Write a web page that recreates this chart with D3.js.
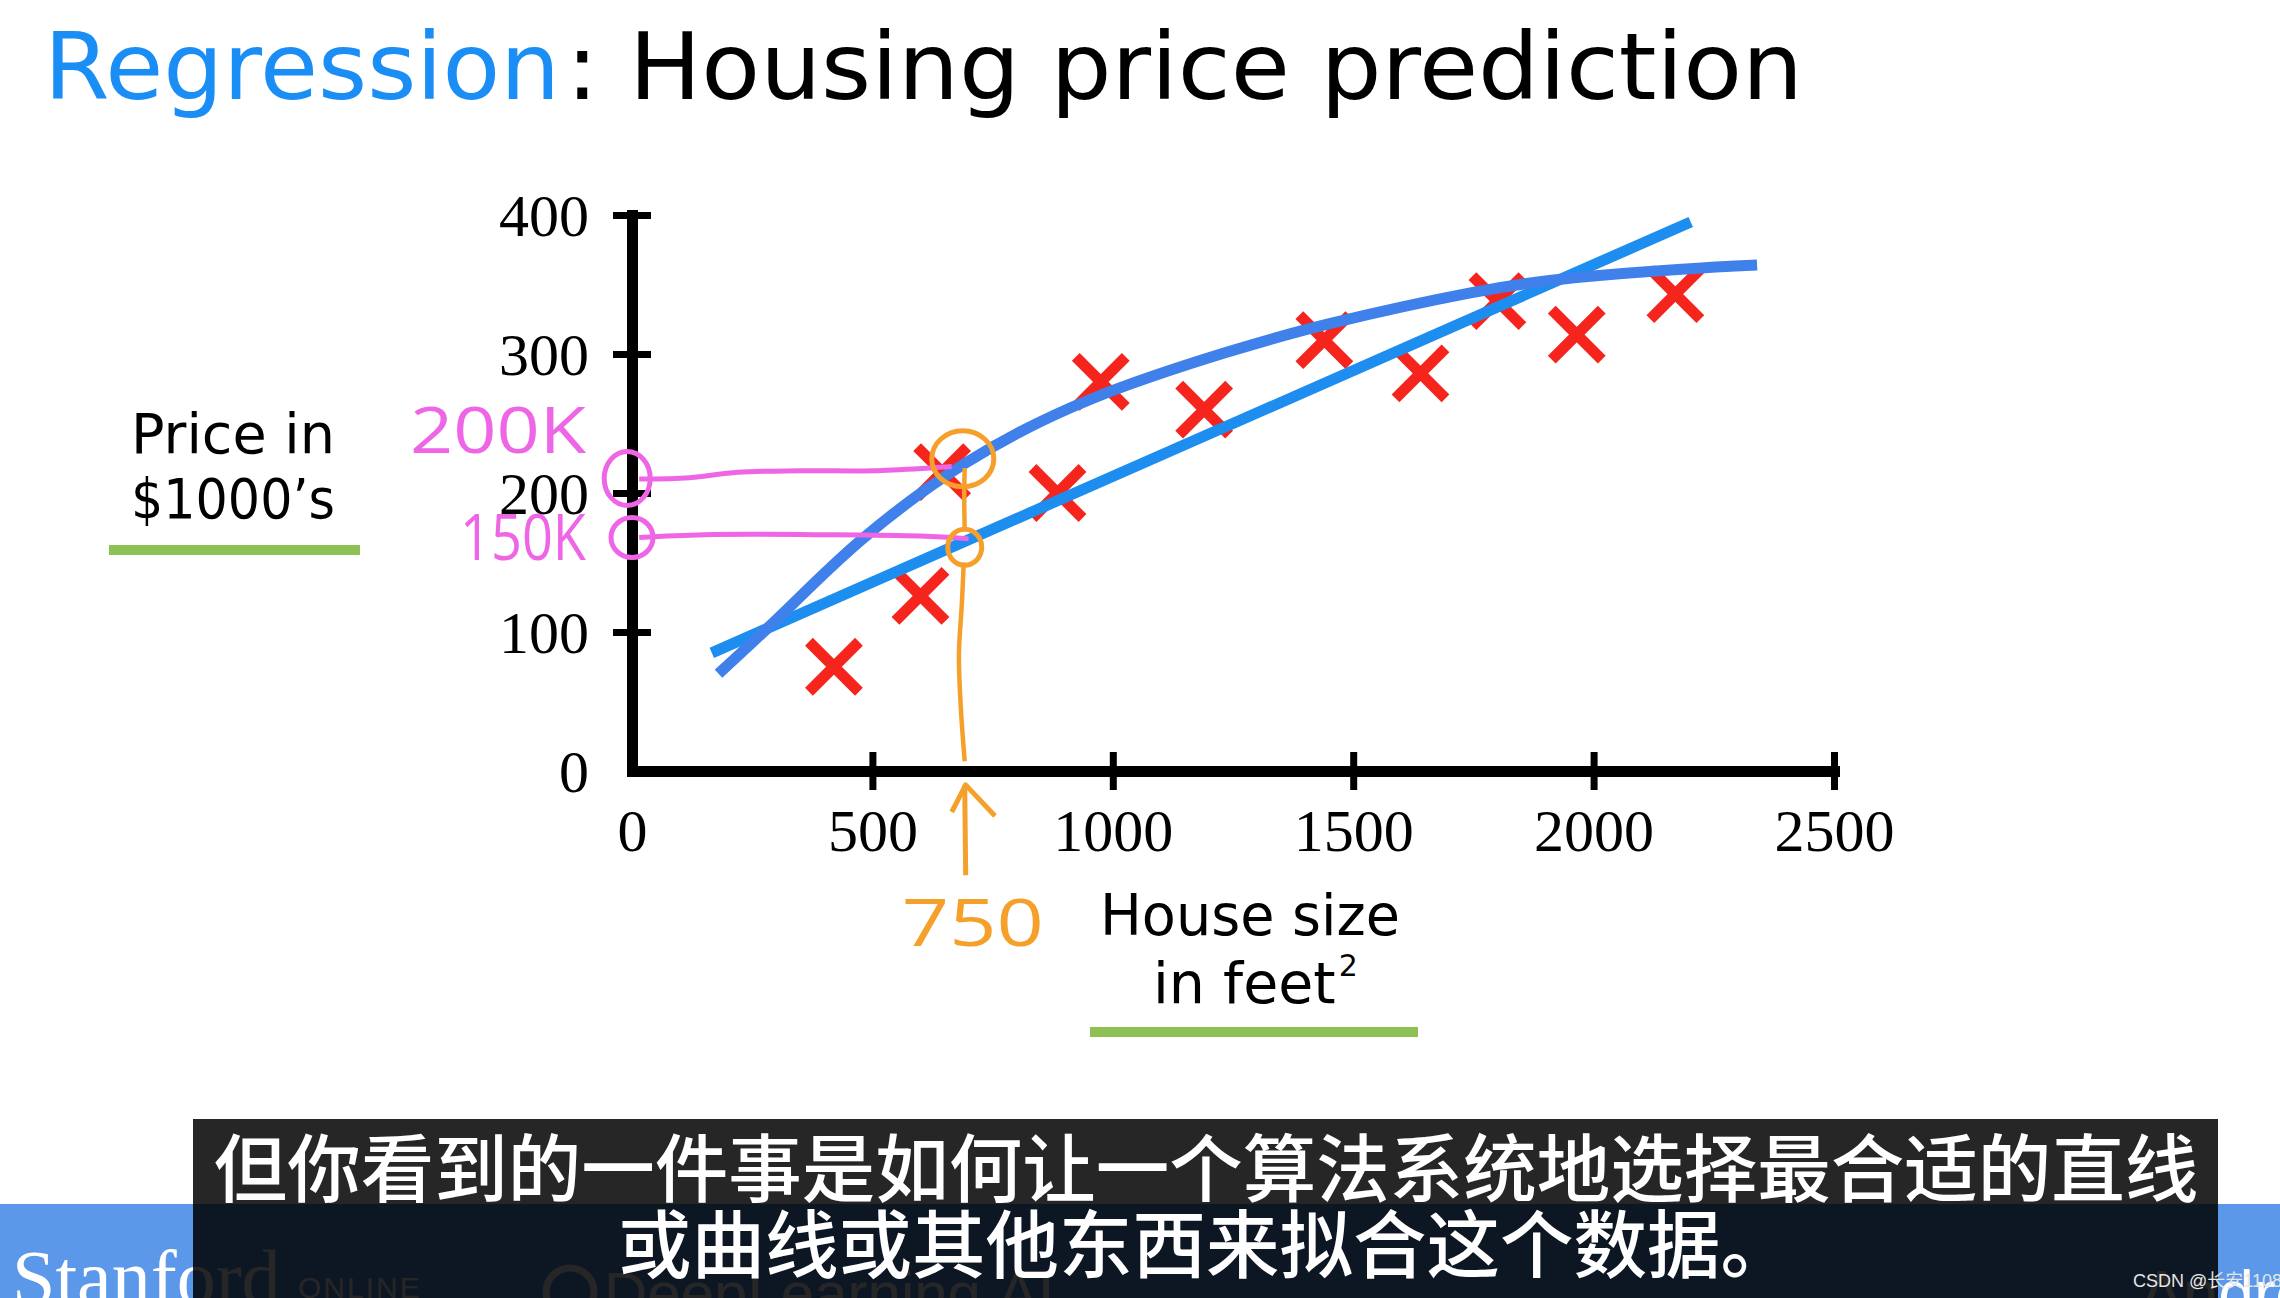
<!DOCTYPE html>
<html><head><meta charset="utf-8">
<script src="https://cdn.jsdelivr.net/npm/d3@7"></script>
<style>
html,body{margin:0;padding:0;background:#fff;overflow:hidden}
svg{display:block}
</style></head><body>
<svg id="chart" width="2280" height="1298"></svg>
<script>
// ---------- data ----------
const sizes  = [420, 600, 645, 885, 975, 1190, 1440, 1640, 1800, 1965, 2170];
const prices = [75, 126, 215, 200, 280, 260, 310, 286, 338, 314, 343];
const xTicks = [0, 500, 1000, 1500, 2000, 2500];
const yTicks = [0, 100, 200, 300, 400];
const lineX  = [166, 2202];
const lineY  = [85, 395];
const curveX = [180, 316, 476, 696, 958, 1235, 1453, 1744, 1965, 2183, 2340];
const curveY = [70, 114, 166, 222, 268, 301, 322, 344, 355, 361, 364];
// hand annotations (data units)
const pink200X = [15, 120, 220, 350, 500, 620, 665];
const pink200Y = [210, 211, 215, 216, 216, 218, 219];
const pink150X = [15, 150, 400, 600, 700];
const pink150Y = [168, 170, 170, 169, 167];
const pinkLabels = ["200K", "150K"];
const pinkLabelY = [229, 152];
const pinkCircleX = [-10, 0];
const pinkCircleY = [210.5, 168];
const orangeLowX = [692, 684, 680, 686, 690];
const orangeLowY = [7, 45, 84, 120, 150];
const orangeUpX = [692, 691, 692];
const orangeUpY = [173, 196, 218];
const orangeCircleX = [692, 688];
const orangeCircleY = [161, 224.6];
const arrowX = [694, 692];
const arrowY = [-75, -10];
const arrowHeadX = [665, 694, 755];
const arrowHeadY = [-29.5, -10, -32.4];
const markLabel = "750";
const markLabelX = 709, markLabelY = -126;
const titleBlue = "Regression";
const titleRest = ": Housing price prediction";
const yLabel = ["Price in", "$1000\u2019s"];
const xLabel = ["House size", "in feet"];
const subtitles = ["但你看到的一件事是如何让一个算法系统地选择最合适的直线", "或曲线或其他东西来拟合这个数据。"];

// ---------- setup ----------
const svg = d3.select("#chart");
const W = 2280, H = 1298;
svg.append("rect").attr("width", W).attr("height", H).attr("fill", "#fff");

const x = d3.scaleLinear().domain([0, 2500]).range([632, 1834]);
const y = d3.scaleLinear().domain([0, 400]).range([771, 215]);

// Title
svg.append("text").attr("x", 44).attr("y", 99)
  .attr("font-family", "DejaVu Sans").attr("font-size", 92)
  .attr("fill", "#1a8ef5").attr("textLength", 516).attr("lengthAdjust", "spacingAndGlyphs")
  .text(titleBlue);
svg.append("text").attr("x", 566).attr("y", 99)
  .attr("font-family", "DejaVu Sans").attr("font-size", 92)
  .attr("fill", "#000").attr("textLength", 1237).attr("lengthAdjust", "spacingAndGlyphs")
  .text(titleRest);

// y label
const yl = svg.append("g").attr("font-family", "DejaVu Sans").attr("font-size", 56).attr("fill", "#000");
yl.append("text").attr("x", 233).attr("y", 453).attr("text-anchor", "middle")
  .attr("textLength", 204).attr("lengthAdjust", "spacingAndGlyphs").text(yLabel[0]);
yl.append("text").attr("x", 233).attr("y", 518).attr("text-anchor", "middle")
  .attr("textLength", 204).attr("lengthAdjust", "spacingAndGlyphs").text(yLabel[1]);
svg.append("line").attr("x1", 109).attr("x2", 360).attr("y1", 550).attr("y2", 550)
  .attr("stroke", "#8dc153").attr("stroke-width", 10);

// x label
const xl = svg.append("g").attr("font-family", "DejaVu Sans").attr("font-size", 57).attr("fill", "#000");
xl.append("text").attr("x", 1100).attr("y", 935)
  .attr("textLength", 300).attr("lengthAdjust", "spacingAndGlyphs").text(xLabel[0]);
const xl2 = xl.append("text").attr("x", 1153).attr("y", 1003);
xl2.append("tspan").text(xLabel[1]);
xl2.append("tspan").attr("font-size", 30).attr("dy", -27).attr("dx", 3).text("2");
svg.append("line").attr("x1", 1090).attr("x2", 1418).attr("y1", 1032).attr("y2", 1032)
  .attr("stroke", "#8dc153").attr("stroke-width", 10);

// Axes
const gx = svg.append("g").attr("transform", `translate(0,${y(0)})`)
  .call(d3.axisBottom(x).tickValues(xTicks).tickSize(0).tickSizeOuter(0).tickFormat(d3.format("d")));
const gy = svg.append("g").attr("transform", `translate(${x(0)},0)`)
  .call(d3.axisLeft(y).tickValues(yTicks).tickSize(0).tickSizeOuter(0).tickFormat(d3.format("d")));
[gx, gy].forEach(g => {
  g.select(".domain").attr("stroke", "#000").attr("stroke-width", 11).attr("stroke-linecap", "square");
  g.selectAll("text").attr("font-family", "Liberation Serif").attr("font-size", 60).attr("fill", "#000");
});
gx.selectAll(".tick line").attr("y1", -19).attr("y2", 19).attr("stroke", "#000").attr("stroke-width", 7);
gx.selectAll(".tick text").attr("y", 80).attr("dy", 0);
gy.selectAll(".tick line").attr("x1", -19).attr("x2", 19).attr("stroke", "#000").attr("stroke-width", 7);
gy.selectAll(".tick text").attr("x", -43).attr("dy", "0.34em");
gx.selectAll(".tick").filter(d => d === 0).select("line").remove();
gy.selectAll(".tick").filter(d => d === 0).select("line").remove();

// Data crosses
const pts = sizes.map((s, i) => ({s, p: prices[i]}));
const cr = 25;
const crosses = svg.append("g").attr("stroke", "#f5241c").attr("stroke-width", 11);
pts.forEach(d => {
  const cx = x(d.s), cy = y(d.p);
  crosses.append("line").attr("x1", cx - cr).attr("y1", cy - cr).attr("x2", cx + cr).attr("y2", cy + cr);
  crosses.append("line").attr("x1", cx - cr).attr("y1", cy + cr).attr("x2", cx + cr).attr("y2", cy - cr);
});

// Fit lines
const lineGen = d3.line().x(d => x(d[0])).y(d => y(d[1]));
svg.append("path").attr("d", lineGen(lineX.map((v, i) => [v, lineY[i]])))
  .attr("fill", "none").attr("stroke", "#1d8ef0").attr("stroke-width", 11);
svg.append("path").attr("d", lineGen.curve(d3.curveNatural)(curveX.map((v, i) => [v, curveY[i]])))
  .attr("fill", "none").attr("stroke", "#3f80ea").attr("stroke-width", 11);

// Pink annotations
const pink = "#ee66e6";
const smooth = d3.line().x(d => x(d[0])).y(d => y(d[1])).curve(d3.curveCatmullRom);
svg.append("path").attr("d", smooth(pink200X.map((v, i) => [v, pink200Y[i]])))
  .attr("fill", "none").attr("stroke", pink).attr("stroke-width", 5);
svg.append("path").attr("d", smooth(pink150X.map((v, i) => [v, pink150Y[i]])))
  .attr("fill", "none").attr("stroke", pink).attr("stroke-width", 5);
const prx = [23, 21], pry = [27, 20];
pinkCircleX.forEach((v, i) => {
  svg.append("ellipse").attr("cx", x(v)).attr("cy", y(pinkCircleY[i]))
    .attr("rx", prx[i]).attr("ry", pry[i]).attr("fill", "none").attr("stroke", pink).attr("stroke-width", 5);
});
const pinkW = [176, 126];
pinkLabels.forEach((t, i) => {
  svg.append("text").attr("x", x(0) - 46).attr("y", y(pinkLabelY[i])).attr("text-anchor", "end")
    .attr("font-family", "Open Sans").attr("font-weight", 400).attr("font-size", 64)
    .attr("fill", pink).attr("textLength", pinkW[i]).attr("lengthAdjust", "spacingAndGlyphs").text(t);
});

// Orange annotations
const orange = "#f5a02a";
svg.append("path").attr("d", smooth(orangeLowX.map((v, i) => [v, orangeLowY[i]])))
  .attr("fill", "none").attr("stroke", orange).attr("stroke-width", 4.5);
svg.append("path").attr("d", smooth(orangeUpX.map((v, i) => [v, orangeUpY[i]])))
  .attr("fill", "none").attr("stroke", orange).attr("stroke-width", 4.5);
const orx = [17, 31], ory = [18, 28];
orangeCircleX.forEach((v, i) => {
  svg.append("ellipse").attr("cx", x(v)).attr("cy", y(orangeCircleY[i]))
    .attr("rx", orx[i]).attr("ry", ory[i]).attr("fill", "none").attr("stroke", orange).attr("stroke-width", 5);
});
svg.append("path").attr("d", lineGen.curve(d3.curveLinear)(arrowX.map((v, i) => [v, arrowY[i]])))
  .attr("fill", "none").attr("stroke", orange).attr("stroke-width", 5);
svg.append("path").attr("d", lineGen(arrowHeadX.map((v, i) => [v, arrowHeadY[i]])))
  .attr("fill", "none").attr("stroke", orange).attr("stroke-width", 5).attr("stroke-linejoin", "round");
svg.append("text").attr("x", x(markLabelX)).attr("y", y(markLabelY)).attr("text-anchor", "middle")
  .attr("font-family", "Open Sans").attr("font-weight", 400).attr("font-size", 66)
  .attr("fill", orange).attr("textLength", 142).attr("lengthAdjust", "spacingAndGlyphs").text(markLabel);

// Bottom banner
svg.append("rect").attr("x", 0).attr("y", 1204).attr("width", W).attr("height", H - 1204).attr("fill", "#5b98ea");
svg.append("text").attr("x", 12).attr("y", 1304).attr("font-family", "Liberation Serif")
  .attr("font-size", 78).attr("fill", "#fff").text("Stanford");
svg.append("text").attr("x", 298).attr("y", 1298).attr("font-family", "Liberation Sans")
  .attr("font-size", 30).attr("letter-spacing", 2).attr("fill", "#fff").text("ONLINE");
svg.append("circle").attr("cx", 570).attr("cy", 1292).attr("r", 24).attr("fill", "none")
  .attr("stroke", "#fff").attr("stroke-width", 7);
svg.append("text").attr("x", 604).attr("y", 1314).attr("font-family", "Liberation Sans")
  .attr("font-size", 60).attr("fill", "#fff").text("DeepLearning.AI");
svg.append("text").attr("x", 2140).attr("y", 1316).attr("font-family", "Liberation Sans")
  .attr("font-size", 64).attr("fill", "#fff").text("Andrew Ng");

// Subtitle box
svg.append("rect").attr("x", 193).attr("y", 1119).attr("width", 2218 - 193).attr("height", H - 1119)
  .attr("fill", "#000").attr("fill-opacity", 0.85);
const subY = [1196, 1272];
subtitles.forEach((t, i) => {
  svg.append("text").attr("x", 1206).attr("y", subY[i]).attr("text-anchor", "middle")
    .attr("font-family", "Noto Sans CJK SC").attr("font-weight", 500).attr("font-size", 73.5)
    .attr("fill", "#fff").text(t);
});

// Watermark
svg.append("text").attr("x", 2133).attr("y", 1287).attr("font-family", "Liberation Sans, Noto Sans CJK SC")
  .attr("font-size", 18).attr("fill", "#e6e6e6").text("CSDN @长安1108");
</script>
</body></html>
